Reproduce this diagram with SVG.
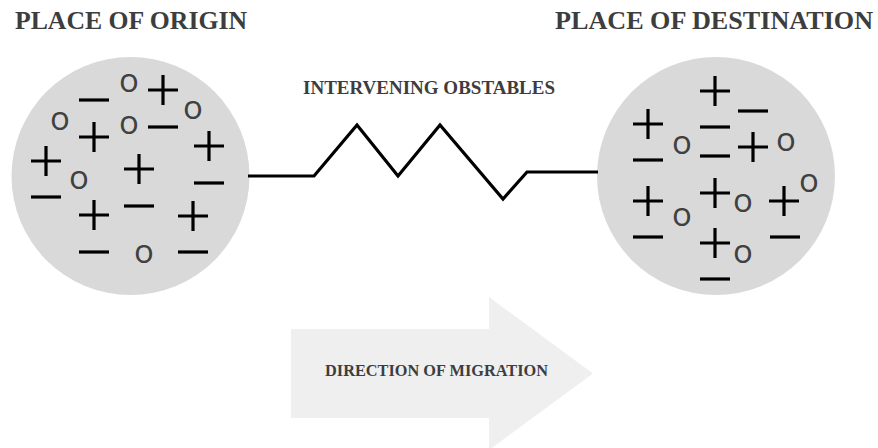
<svg xmlns="http://www.w3.org/2000/svg" xmlns:xlink="http://www.w3.org/1999/xlink" width="878" height="448" viewBox="0 0 878 448">
  <style>
    .title { font-family: "Liberation Serif", "Times New Roman", serif; font-weight: bold; fill: #3d3d3d; }
    .place { fill: #d9d9d9; }
    .o { font-family: "Open Sans", "DejaVu Sans", sans-serif; font-size: 33px; fill: #404040; text-anchor: middle; }
    .mark { stroke: #000; stroke-width: 3.2; fill: none; }
    .wire { stroke: #000; stroke-width: 3.2; fill: none; stroke-linejoin: miter; }
    .flow { fill: #efeff0; }
  </style>
  <defs>
    <path id="plus" class="mark" d="M-15 0H15M0 -15V15"/>
    <path id="minus" class="mark" d="M-15 0H15"/>
  </defs>

  <rect width="878" height="448" fill="#fff"/>

  <!-- origin -->
  <g id="origin">
    <text class="title" x="15" y="29" font-size="25.7" textLength="232" lengthAdjust="spacingAndGlyphs">PLACE OF ORIGIN</text>
    <circle class="place" cx="130.5" cy="176" r="119"/>
    <use href="#plus" x="163" y="90"/>
    <use href="#plus" x="94" y="137"/>
    <use href="#plus" x="209" y="146"/>
    <use href="#plus" x="46" y="161"/>
    <use href="#plus" x="139" y="169"/>
    <use href="#plus" x="94" y="215"/>
    <use href="#plus" x="193" y="216"/>
    <use href="#minus" x="94" y="100"/>
    <use href="#minus" x="163" y="127"/>
    <use href="#minus" x="209" y="183"/>
    <use href="#minus" x="46" y="197"/>
    <use href="#minus" x="139" y="206"/>
    <use href="#minus" x="94" y="252"/>
    <use href="#minus" x="193" y="252"/>
    <text class="o" x="129" y="92">o</text>
    <text class="o" x="60" y="130">o</text>
    <text class="o" x="193" y="119">o</text>
    <text class="o" x="129" y="134">o</text>
    <text class="o" x="79" y="189">o</text>
    <text class="o" x="144" y="263">o</text>
  </g>

  <!-- destination -->
  <g id="destination">
    <text class="title" x="555" y="29" font-size="25.7" textLength="318" lengthAdjust="spacingAndGlyphs">PLACE OF DESTINATION</text>
    <circle class="place" cx="716" cy="176" r="119"/>
    <use href="#plus" x="715" y="91"/>
    <use href="#plus" x="648" y="124"/>
    <use href="#plus" x="753" y="147"/>
    <use href="#plus" x="648" y="201"/>
    <use href="#plus" x="715" y="193"/>
    <use href="#plus" x="784" y="201"/>
    <use href="#plus" x="715" y="243"/>
    <use href="#minus" x="753" y="111"/>
    <use href="#minus" x="715" y="127"/>
    <use href="#minus" x="648" y="160"/>
    <use href="#minus" x="715" y="156"/>
    <use href="#minus" x="648" y="237"/>
    <use href="#minus" x="785" y="237"/>
    <use href="#minus" x="715" y="279"/>
    <text class="o" x="682" y="154">o</text>
    <text class="o" x="786" y="151">o</text>
    <text class="o" x="682" y="226">o</text>
    <text class="o" x="743" y="212">o</text>
    <text class="o" x="809" y="192">o</text>
    <text class="o" x="743" y="263">o</text>
  </g>

  <!-- obstacles label -->
  <g id="obstacles">
    <text class="title" x="303" y="94" font-size="18.5" textLength="252" lengthAdjust="spacingAndGlyphs">INTERVENING OBSTABLES</text>
  </g>

  <!-- connectors -->
  <g id="connectors">
    <polyline class="wire" points="248,176 314,176 357,125 398,176 440,125 503,199 527,172 598,172"/>
  </g>

  <!-- migration arrow -->
  <g id="migration">
    <polygon class="flow" points="291,329 489,329 489,297 593,373.5 489,450 489,418 291,418"/>
    <text class="title" x="325" y="376" font-size="16.2" textLength="223" lengthAdjust="spacingAndGlyphs">DIRECTION OF MIGRATION</text>
  </g>
</svg>
